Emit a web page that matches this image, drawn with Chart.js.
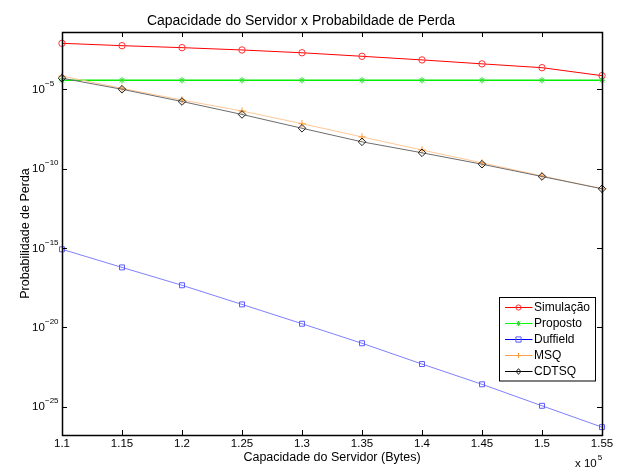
<!DOCTYPE html>
<html>
<head>
<meta charset="utf-8">
<script src="https://cdn.jsdelivr.net/npm/chart.js@4/dist/chart.umd.min.js"></script>
<style>
html,body{margin:0;padding:0;background:#fff;}
#wrap{width:621px;height:472px;}
</style>
</head>
<body>
<div id="wrap"><canvas id="c" width="621" height="472"></canvas></div>
<script>
// ---- data ----
const xValues = [1.1, 1.15, 1.2, 1.25, 1.3, 1.35, 1.4, 1.45, 1.5, 1.55];
const xTickLabels = ['1.1', '1.15', '1.2', '1.25', '1.3', '1.35', '1.4', '1.45', '1.5', '1.55'];
const xExponentLabel = ['x 10', '5'];
const yTickBase = '10';
const yTickExponents = [-5, -10, -15, -20, -25];
const seriesNames = ['Simulação', 'Proposto', 'Duffield', 'MSQ', 'CDTSQ'];
const simulacao = [7.9e-3, 5.6e-3, 4.2e-3, 3.0e-3, 2.0e-3, 1.2e-3, 7.1e-4, 4.0e-4, 2.3e-4, 7.2e-5];
const proposto  = [3.7e-5, 3.7e-5, 3.7e-5, 3.7e-5, 3.7e-5, 3.7e-5, 3.7e-5, 3.7e-5, 3.7e-5, 3.7e-5];
const duffield  = [8.3e-16, 6.0e-17, 4.5e-18, 2.8e-19, 1.7e-20, 1.0e-21, 4.9e-23, 2.6e-24, 1.15e-25, 5.2e-27];
const msq       = [6.8e-5, 1.15e-5, 2.1e-6, 4.3e-7, 6.8e-8, 1.0e-8, 1.5e-9, 2.3e-10, 3.5e-11, 5.4e-12];
const cdtsq     = [5.0e-5, 1.0e-5, 1.7e-6, 2.6e-7, 3.5e-8, 4.9e-9, 1.0e-9, 1.9e-10, 3.2e-11, 5.4e-12];
const yMin = 1.66e-27;
const yMax = 4.07e-2;
const titleText = 'Capacidade do Servidor x Probabildade de Perda';
const xTitle = 'Capacidade do Servidor (Bytes)';
const yTitle = 'Probabilidade de Perda';

const FONT = '"Liberation Sans", Arial, Helvetica, sans-serif';

function pts(arr) { return xValues.map((x, i) => ({ x: x, y: arr[i] })); }

const styles = [
  { line: '#ff0000', legendLine: '#ff0000', marker: '#ff3030', shape: 'circle', r: 3.2, lw: 1 },
  { line: '#00ee00', legendLine: '#00ff00', marker: '#33dd33', shape: 'star', r: 3.2, lw: 1.4 },
  { line: '#7f7fff', legendLine: '#0000ff', marker: '#5a5aff', shape: 'rect', r: 3.5, lw: 1 },
  { line: '#ffc796', legendLine: '#ffa050', marker: '#ff9933', shape: 'cross', r: 3.6, lw: 1 },
  { line: '#6c6c6c', legendLine: '#000000', marker: '#202020', shape: 'rectRot', r: 3.8, lw: 1 }
];
const seriesData = [simulacao, proposto, duffield, msq, cdtsq];

const datasets = seriesNames.map((name, i) => ({
  label: name,
  data: pts(seriesData[i]),
  borderColor: styles[i].line,
  borderWidth: styles[i].lw,
  backgroundColor: 'rgba(0,0,0,0)',
  pointStyle: styles[i].shape,
  pointRadius: styles[i].r,
  pointBorderColor: styles[i].marker,
  pointBackgroundColor: 'rgba(0,0,0,0)',
  pointBorderWidth: 1,
  tension: 0,
  fill: false,
  clip: false,
  order: seriesNames.length - i
}));

function drawMarker(ctx, shape, x, y, r, color) {
  ctx.save();
  ctx.strokeStyle = color;
  ctx.lineWidth = 1;
  ctx.beginPath();
  if (shape === 'circle') {
    ctx.arc(x, y, r, 0, Math.PI * 2);
  } else if (shape === 'rect') {
    ctx.rect(x - r, y - r, 2 * r, 2 * r);
  } else if (shape === 'rectRot') {
    ctx.moveTo(x, y - r * 1.1); ctx.lineTo(x + r * 0.9, y); ctx.lineTo(x, y + r * 1.1); ctx.lineTo(x - r * 0.9, y); ctx.closePath();
  } else if (shape === 'cross') {
    ctx.moveTo(x - r, y); ctx.lineTo(x + r, y); ctx.moveTo(x, y - r); ctx.lineTo(x, y + r);
  } else if (shape === 'star') {
    ctx.moveTo(x - r, y); ctx.lineTo(x + r, y); ctx.moveTo(x, y - r); ctx.lineTo(x, y + r);
    const d = r * 0.7;
    ctx.moveTo(x - d, y - d); ctx.lineTo(x + d, y + d); ctx.moveTo(x - d, y + d); ctx.lineTo(x + d, y - d);
  }
  ctx.stroke();
  ctx.restore();
}

const framePlugin = {
  id: 'frame',
  afterDraw(chart) {
    const ctx = chart.ctx;
    const a = chart.chartArea;
    const xs = chart.scales.x, ys = chart.scales.y;
    ctx.save();
    // axes box
    ctx.strokeStyle = '#000';
    ctx.lineWidth = 1.5;
    ctx.strokeRect(a.left + 0.5, a.top + 0.5, a.right - a.left, a.bottom - a.top);
    // ticks
    ctx.lineWidth = 1;
    ctx.beginPath();
    xValues.forEach(v => {
      const px = Math.round(xs.getPixelForValue(v)) + 0.5;
      ctx.moveTo(px, a.bottom); ctx.lineTo(px, a.bottom - 5);
      ctx.moveTo(px, a.top); ctx.lineTo(px, a.top + 5);
    });
    yTickExponents.forEach(e => {
      const py = Math.round(ys.getPixelForValue(Math.pow(10, e))) + 0.5;
      ctx.moveTo(a.left, py); ctx.lineTo(a.left + 5, py);
      ctx.moveTo(a.right, py); ctx.lineTo(a.right - 5, py);
    });
    ctx.stroke();
    // y tick labels with superscript exponents
    ctx.fillStyle = '#000';
    ctx.textBaseline = 'middle';
    ctx.textAlign = 'left';
    yTickExponents.forEach(e => {
      const py = ys.getPixelForValue(Math.pow(10, e));
      ctx.font = '11.5px ' + FONT;
      ctx.fillText(yTickBase, 32, py + 0.5);
      ctx.font = '8px ' + FONT;
      ctx.fillText('\u2212' + Math.abs(e), 45, py - 5.5);
    });
    // x exponent label
    ctx.font = '11.5px ' + FONT;
    ctx.fillText(xExponentLabel[0], 575, 464);
    const w = ctx.measureText(xExponentLabel[0]).width;
    ctx.font = '8px ' + FONT;
    ctx.fillText(xExponentLabel[1], 575 + w + 1, 458);
    // legend
    const L = { left: 499.5, top: 297.5, w: 96, h: 83.5 };
    ctx.fillStyle = '#fff';
    ctx.fillRect(L.left, L.top, L.w, L.h);
    ctx.strokeStyle = '#000';
    ctx.lineWidth = 1;
    ctx.strokeRect(L.left, L.top, L.w, L.h);
    ctx.font = '12px ' + FONT;
    chart.data.datasets.forEach((ds, i) => {
      const y = Math.round(307.3 + 16 * i) + 0.5;
      ctx.strokeStyle = styles[i].legendLine;
      ctx.lineWidth = 1;
      ctx.beginPath();
      ctx.moveTo(505, y); ctx.lineTo(532.5, y);
      ctx.stroke();
      drawMarker(ctx, styles[i].shape, 518.5, y, 2.6, styles[i].marker);
      ctx.fillStyle = '#000';
      ctx.textAlign = 'left';
      ctx.textBaseline = 'middle';
      ctx.fillText(ds.label, 534, y);
    });
    ctx.restore();
  }
};

new Chart(document.getElementById('c'), {
  type: 'line',
  data: { datasets: datasets },
  plugins: [framePlugin],
  options: {
    responsive: false,
    devicePixelRatio: 1,
    animation: false,
    events: [],
    layout: { padding: { left: 0, right: 19, top: 0, bottom: 0 } },
    plugins: {
      legend: { display: false },
      tooltip: { enabled: false },
      title: {
        display: true,
        text: titleText,
        color: '#000',
        font: { family: FONT, size: 14, weight: 'normal' },
        padding: { top: 12.4, bottom: 2.8 }
      }
    },
    scales: {
      x: {
        type: 'linear',
        min: 1.1,
        max: 1.55,
        afterBuildTicks: s => { s.ticks = xValues.map(v => ({ value: v })); },
        ticks: {
          callback: (v, i) => xTickLabels[i],
          color: '#000',
          font: { family: FONT, size: 11.5 },
          padding: 2,
          maxRotation: 0,
          autoSkip: false
        },
        grid: { display: false, drawTicks: false },
        border: { display: false },
        title: {
          display: true,
          text: xTitle,
          color: '#000',
          font: { family: FONT, size: 12.5 },
          padding: { top: 0, bottom: 7.4 }
        },
        afterFit: s => { s.height = 37; s.paddingLeft = 0; s.paddingRight = 0; }
      },
      y: {
        type: 'logarithmic',
        min: yMin,
        max: yMax,
        afterBuildTicks: s => { s.ticks = yTickExponents.map(e => ({ value: Math.pow(10, e) })); },
        ticks: { display: false },
        grid: { display: false, drawTicks: false },
        border: { display: false },
        title: {
          display: true,
          text: yTitle,
          color: '#000',
          font: { family: FONT, size: 12.5 },
          padding: { top: 18.5, bottom: 0 }
        },
        afterFit: s => { s.width = 62; s.paddingTop = 0; s.paddingBottom = 0; }
      }
    }
  }
});
</script>
</body>
</html>
